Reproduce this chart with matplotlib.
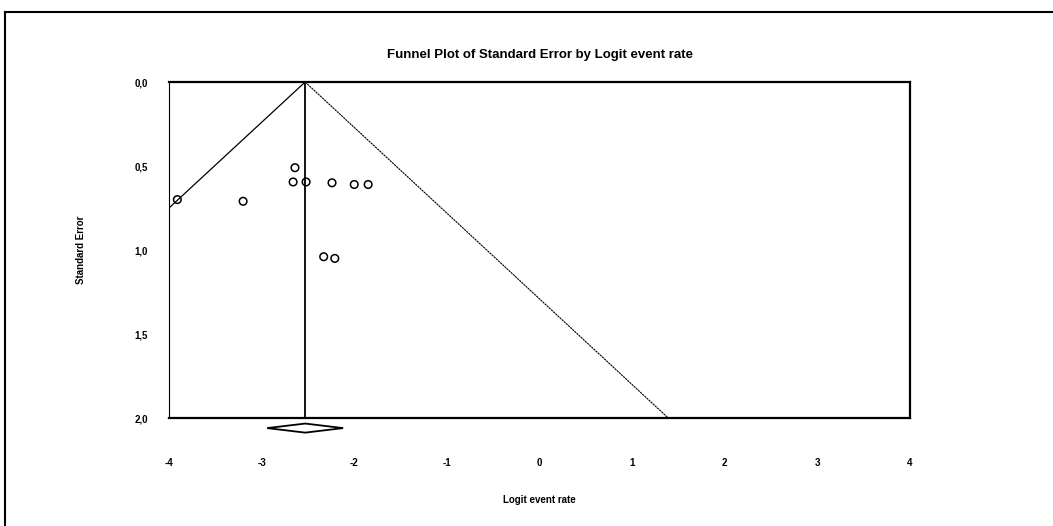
import matplotlib
matplotlib.use('Agg')
import matplotlib.pyplot as plt
from matplotlib.lines import Line2D

plt.rcParams['font.family'] = 'Liberation Sans'

# studies: logit event rate and standard error
logit = [-3.91, -3.20, -2.64, -2.66, -2.52, -2.24, -2.00, -1.85, -2.33, -2.21]
se = [0.70, 0.71, 0.51, 0.595, 0.595, 0.60, 0.61, 0.61, 1.04, 1.05]

# pooled estimate and confidence interval
pooled = -2.53
ci_low = -2.94
ci_high = -2.12

xticks = [-4, -3, -2, -1, 0, 1, 2, 3, 4]
yticks = [0.0, 0.5, 1.0, 1.5, 2.0]
ytick_labels = ['0,0', '0,5', '1,0', '1,5', '2,0']

fig = plt.figure(figsize=(10.53, 5.26), dpi=100)
ax = fig.add_axes([0.1605, 0.2053, 0.7037, 0.6388])

# funnel lines
se_max = 2.0
ax.plot([pooled - 1.96 * se_max, pooled], [se_max, 0], color='black', lw=0.9)
ax.plot([pooled, pooled + 1.96 * se_max], [0, se_max], color='black', lw=0.8, linestyle=(0, (2, 0.6)))
ax.plot([pooled, pooled], [0, se_max], color='black', lw=1.3)

ax.scatter(logit, se, s=30, facecolors='none', edgecolors='black', linewidths=1.1, zorder=3)

# diamond below the axis
yd = 2.06
h = 0.027
ax.fill([ci_low, pooled, ci_high, pooled], [yd, yd - h, yd, yd + h],
        facecolor='white', edgecolor='black', lw=1.3, clip_on=False, zorder=4)

ax.set_xlim(-4, 4)
ax.set_ylim(2.0, 0.0)
ax.set_xticks(xticks)
ax.set_xticklabels([str(t) for t in xticks], fontsize=7, fontweight='bold')
ax.set_yticks(yticks)
ax.set_yticklabels(ytick_labels, fontsize=7, fontweight='bold')
ax.tick_params(axis='x', length=2, width=1.5, direction='inout', pad=27.5)
ax.tick_params(axis='y', length=0, pad=15)

for side in ['top', 'bottom', 'right']:
    ax.spines[side].set_linewidth(1.6)
ax.spines['left'].set_linewidth(0.8)

ax.set_title('Funnel Plot of Standard Error by Logit event rate', fontsize=9.5,
             fontweight='bold', pad=17)
ax.set_xlabel('Logit event rate', fontsize=7, fontweight='bold', labelpad=20)
ax.set_ylabel('Standard Error', fontsize=7, fontweight='bold', labelpad=35)

# outer frame (left and top edges)
fig.add_artist(Line2D([5 / 1053, 5 / 1053], [0, 1 - 12 / 526], transform=fig.transFigure,
                      color='black', lw=1.5))
fig.add_artist(Line2D([5 / 1053, 1], [1 - 12 / 526, 1 - 12 / 526], transform=fig.transFigure,
                      color='black', lw=1.5))

fig.savefig('out.png', dpi=100)
